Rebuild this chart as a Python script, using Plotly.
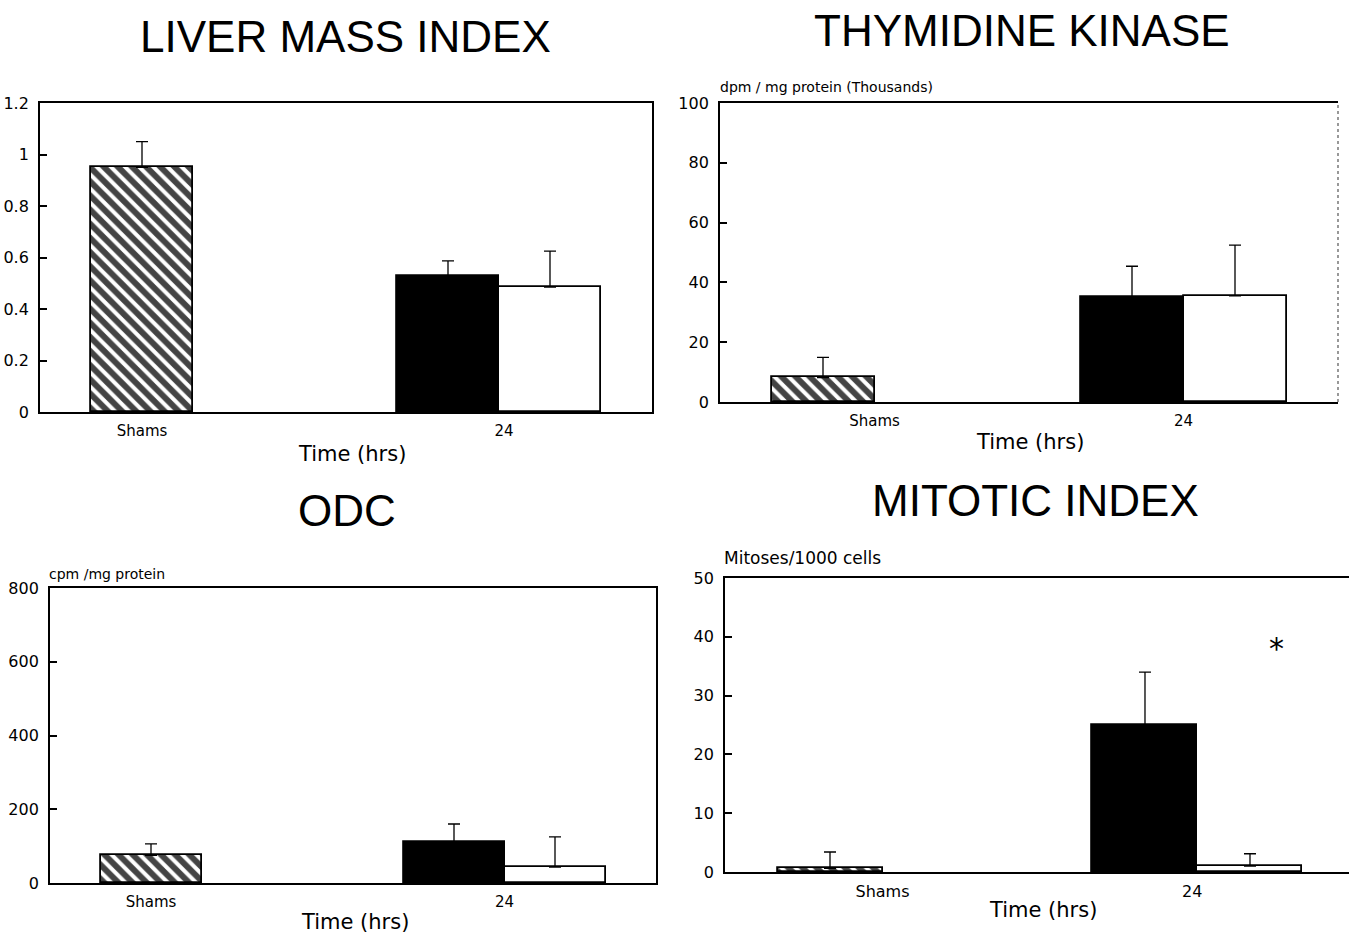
import plotly.graph_objects as go

W, H = 1349, 933

# ---------------- data ----------------
categories = ["Shams", "24"]
groups = ["Sham", "24 h group A", "24 h group B"]

liver_vals = [0.95, 0.527, 0.485]
liver_err = [0.10, 0.06, 0.14]

tk_vals = [8.2, 35.0, 35.5]
tk_err = [6.7, 10.4, 17.0]

odc_vals = [75, 112, 43]
odc_err = [31, 48, 82]

mit_vals = [0.6, 25.0, 1.0]
mit_err = [2.8, 9.0, 2.1]

titles = ["LIVER MASS INDEX", "THYMIDINE KINASE", "ODC", "MITOTIC INDEX"]
unit_labels = ["", "dpm / mg protein (Thousands)", "cpm /mg protein", "Mitoses/1000 cells"]
x_title = "Time (hrs)"

y_ranges = [[0, 1.2], [0, 100], [0, 800], [0, 50]]
y_ticks = [[0, 0.2, 0.4, 0.6, 0.8, 1.0, 1.2], [0, 20, 40, 60, 80, 100],
           [0, 200, 400, 600, 800], [0, 10, 20, 30, 40, 50]]
y_ticktext = [["0", "0.2", "0.4", "0.6", "0.8", "1", "1.2"],
              ["0", "20", "40", "60", "80", "100"],
              ["0", "200", "400", "600", "800"],
              ["0", "10", "20", "30", "40", "50"]]

# ---------------- layout helpers ----------------
def px_x(x):
    return x / W

def px_y(y):
    return 1 - y / H

bar_x = [1, 4, 5]
fills = ["white", "black", "white"]
shapes = ["\\", "", ""]

panels = [
    dict(box=(40, 652, 103, 412), xr=[0, 6], cat_pos=[1.0, 4.55], mirror=True),
    dict(box=(720, 1338, 103, 402), xr=[0, 6], cat_pos=[1.5, 4.5], mirror=False),
    dict(box=(50, 656, 588, 883), xr=[0, 6], cat_pos=[1.0, 4.5], mirror=True),
    dict(box=(725, 1349, 578, 872), xr=[0, 5.943], cat_pos=[1.5, 4.45], mirror=False),
]
values = [liver_vals, tk_vals, odc_vals, mit_vals]
errors = [liver_err, tk_err, odc_err, mit_err]

fig = go.Figure()
layout = dict(width=W, height=H, margin=dict(l=0, r=0, t=0, b=0, pad=0, autoexpand=False),
              paper_bgcolor="white", plot_bgcolor="white", showlegend=False,
              font=dict(family="DejaVu Sans", color="black", size=15), bargap=0)
annotations = []
frame_shapes = []

for i, p in enumerate(panels):
    k = "" if i == 0 else str(i + 1)
    l, r, t, b = p["box"]
    fig.add_trace(go.Bar(
        x=bar_x, y=values[i], width=1.0, xaxis="x" + k, yaxis="y" + k,
        name=titles[i],
        marker=dict(color=fills, line=dict(color="black", width=1.8),
                    pattern=dict(shape=shapes, fgcolor="#000000", bgcolor="white",
                                 fgopacity=1, size=10, solidity=0.6)),
        error_y=dict(type="data", symmetric=False, array=errors[i],
                     arrayminus=[0, 0, 0], color="black", thickness=1.3, width=6),
        hoverinfo="y",
    ))
    layout["xaxis" + k] = dict(
        domain=[px_x(l), px_x(r)], range=p["xr"], anchor="y" + k,
        showline=True, linecolor="black", linewidth=1.8, mirror=True,
        showgrid=False, zeroline=False, ticks="", automargin=False,
        tickvals=p["cat_pos"], ticktext=categories,
        tickfont=dict(size=15 if i < 3 else 16), ticklabelstandoff=4)
    layout["yaxis" + k] = dict(
        domain=[px_y(b), px_y(t)], range=y_ranges[i], anchor="x" + k,
        showline=True, linecolor="black", linewidth=1.8, mirror=p["mirror"],
        showgrid=False, zeroline=False, ticks="inside", ticklen=7, automargin=False,
        tickcolor="black", tickwidth=1.5,
        tickvals=y_ticks[i], ticktext=y_ticktext[i],
        tickfont=dict(size=16), ticklabelstandoff=6)

# faint dotted right border of the thymidine kinase panel
frame_shapes.append(dict(type="line", xref="x2 domain", yref="y2 domain",
                         x0=1, x1=1, y0=0, y1=1,
                         line=dict(color="#555555", width=1.2, dash="dot")))

title_pos = [(345, 36), (1022, 31), (347, 510), (1035, 500)]
for txt, (x, y) in zip(titles, title_pos):
    annotations.append(dict(text=txt, x=px_x(x), y=px_y(y), xref="paper", yref="paper",
                            showarrow=False, xanchor="center", yanchor="middle",
                            font=dict(family="Liberation Sans", size=44, color="black")))

unit_pos = [None, (718, 87), (47, 574), (722, 558)]
unit_sizes = [15, 14, 14, 17]
for txt, pos, s in zip(unit_labels, unit_pos, unit_sizes):
    if pos is None:
        continue
    annotations.append(dict(text=txt, x=px_x(pos[0]), y=px_y(pos[1]), xref="paper", yref="paper",
                            showarrow=False, xanchor="left", yanchor="middle",
                            font=dict(size=s, color="black")))

xt_pos = [(352, 454), (1030, 442), (355, 922), (1043, 910)]
for (x, y) in xt_pos:
    annotations.append(dict(text=x_title, x=px_x(x), y=px_y(y), xref="paper", yref="paper",
                            showarrow=False, xanchor="center", yanchor="middle",
                            font=dict(size=21, color="black")))

annotations.append(dict(text="*", x=5.25, y=38, xref="x4", yref="y4", showarrow=False,
                        font=dict(size=30, color="black")))

layout["annotations"] = annotations
layout["shapes"] = frame_shapes
fig.update_layout(**layout)

fig.write_html(
    "out.html",
    config={"displayModeBar": False},
    post_script="document.documentElement.style.margin='0px';document.body.style.margin='0px';document.body.style.padding='0px';",
)
